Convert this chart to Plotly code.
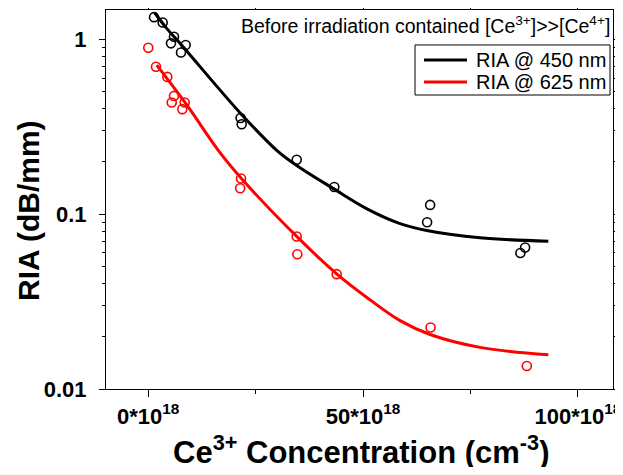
import plotly.graph_objects as go

# ---- data ----
x450_pts = [1.35, 3.37, 6.0, 5.3, 8.72, 7.63, 21.5, 21.75, 34.55, 43.3, 65.6, 64.9, 87.7, 86.6]
y450_pts = [1.34, 1.25, 1.035, 0.949, 0.928, 0.842, 0.355, 0.327, 0.205, 0.143, 0.113, 0.090, 0.0645, 0.060]

x625_pts = [0.02, 1.81, 4.44, 6.0, 5.47, 8.49, 7.93, 21.6, 21.4, 34.55, 34.7, 43.85, 65.7, 88.1]
y625_pts = [0.895, 0.697, 0.610, 0.475, 0.435, 0.435, 0.399, 0.160, 0.1406, 0.0746, 0.059, 0.0454, 0.0225, 0.01355]

x450_fit = [1.5, 4.3, 7.4, 21.5, 29.9, 34.55, 43.1, 50.8, 58.6, 64.8, 77.2, 93.1]
y450_fit = [1.42, 1.156, 0.95, 0.377, 0.232, 0.19, 0.140, 0.1076, 0.0883, 0.0807, 0.0733, 0.0701]

x625_fit = [2.0, 9.3, 16.3, 22.1, 34.55, 43.85, 50.8, 58.6, 65.6, 77.2, 93.1]
y625_fit = [0.712, 0.411, 0.232, 0.156, 0.0746, 0.0456, 0.0335, 0.0246, 0.0205, 0.0173, 0.0157]

series_names = ["RIA @ 450 nm", "RIA @ 625 nm"]
series_colors = ["black", "#ff0000"]

x_tickvals = [0, 50, 100]
x_ticktext = ["0*10<sup>18</sup>", "50*10<sup>18</sup>", "100*10<sup>18</sup>"]
y_tickvals = [1, 0.1, 0.01]
y_ticktext = ["1", "0.1", "0.01"]
y_minor = [0.02, 0.03, 0.04, 0.05, 0.06, 0.07, 0.08, 0.09,
           0.2, 0.3, 0.4, 0.5, 0.6, 0.7, 0.8, 0.9]

FONT = "Arial, Liberation Sans, sans-serif"

fig = go.Figure()
fig.add_trace(go.Scatter(x=x450_fit, y=y450_fit, mode="lines", showlegend=False,
                         line=dict(color=series_colors[0], width=3, shape="spline"), name=series_names[0]))
fig.add_trace(go.Scatter(x=x625_fit, y=y625_fit, mode="lines", showlegend=False,
                         line=dict(color=series_colors[1], width=3, shape="spline"), name=series_names[1]))
fig.add_trace(go.Scatter(x=x450_pts, y=y450_pts, mode="markers", showlegend=False,
                         marker=dict(symbol="circle-open", size=9, color=series_colors[0], line=dict(width=1.6))))
fig.add_trace(go.Scatter(x=x625_pts, y=y625_pts, mode="markers", showlegend=False,
                         marker=dict(symbol="circle-open", size=9, color=series_colors[1], line=dict(width=1.6))))

# The page body adds an 8px margin, so the figure is sized to fit inside it.
fig.update_layout(
    template="none",
    width=607, height=459,
    margin=dict(l=98, r=2, t=2, b=78),
    paper_bgcolor="white", plot_bgcolor="white",
    font=dict(family=FONT, color="black"),
    showlegend=False,
    xaxis=dict(range=[-9.82, 108.15], tickvals=x_tickvals, ticktext=x_ticktext, automargin=False,
               ticklabeloverflow="allow",
               ticks="outside", ticklen=7, tickwidth=1, tickcolor="black",
               minor=dict(tickvals=[25, 75], ticks="outside", ticklen=4, tickcolor="black"),
               showline=True, linecolor="black", linewidth=1.2, mirror="allticks",
               showgrid=False, zeroline=False,
               tickfont=dict(family=FONT, size=22, weight="bold", color="black")),
    yaxis=dict(type="log", range=[-2, 0.168], tickvals=y_tickvals, ticktext=y_ticktext, automargin=False,
               ticklabeloverflow="allow",
               ticks="outside", ticklen=6, tickwidth=1, tickcolor="black", ticklabelstandoff=8,
               minor=dict(tickvals=y_minor, ticks="outside", ticklen=3, tickcolor="black"),
               showline=True, linecolor="black", linewidth=1.2, mirror="allticks",
               showgrid=False, zeroline=False,
               tickfont=dict(family=FONT, size=22, weight="bold", color="black")),
)

# legend box drawn by hand (paper coordinates)
fig.add_shape(type="rect", xref="paper", yref="paper", x0=0.6095, x1=0.9941, y0=0.7757, y1=0.9077,
              line=dict(color="black", width=1), fillcolor="white", layer="above")
for name, color, ly in zip(series_names, series_colors, [0.868, 0.810]):
    fig.add_shape(type="line", xref="paper", yref="paper", x0=0.6272, x1=0.7120, y0=ly, y1=ly,
                  line=dict(color=color, width=3), layer="above")
    fig.add_annotation(text=name, xref="paper", yref="paper", x=0.7258, y=ly,
                       xanchor="left", yanchor="middle", showarrow=False,
                       font=dict(family=FONT, size=20, color="black"))

fig.add_annotation(text="Before irradiation contained [Ce<sup>3+</sup>]>>[Ce<sup>4+</sup>]",
                   xref="paper", yref="paper", x=0.998, y=0.9604, xanchor="right", yanchor="middle",
                   showarrow=False, font=dict(family=FONT, size=19.5, color="black"))
fig.add_annotation(text="RIA (dB/mm)", textangle=-90,
                   xref="paper", yref="paper", x=-0.1519, y=0.4723, xanchor="center", yanchor="middle",
                   showarrow=False, font=dict(family=FONT, size=30, weight="bold", color="black"))
fig.add_annotation(text="Ce<sup>3+</sup> Concentration (cm<sup>-3</sup>)",
                   xref="paper", yref="paper", x=0.502, y=-0.161, xanchor="center", yanchor="middle",
                   showarrow=False, font=dict(family=FONT, size=31, weight="bold", color="black"))

fig.write_html("out.html")
